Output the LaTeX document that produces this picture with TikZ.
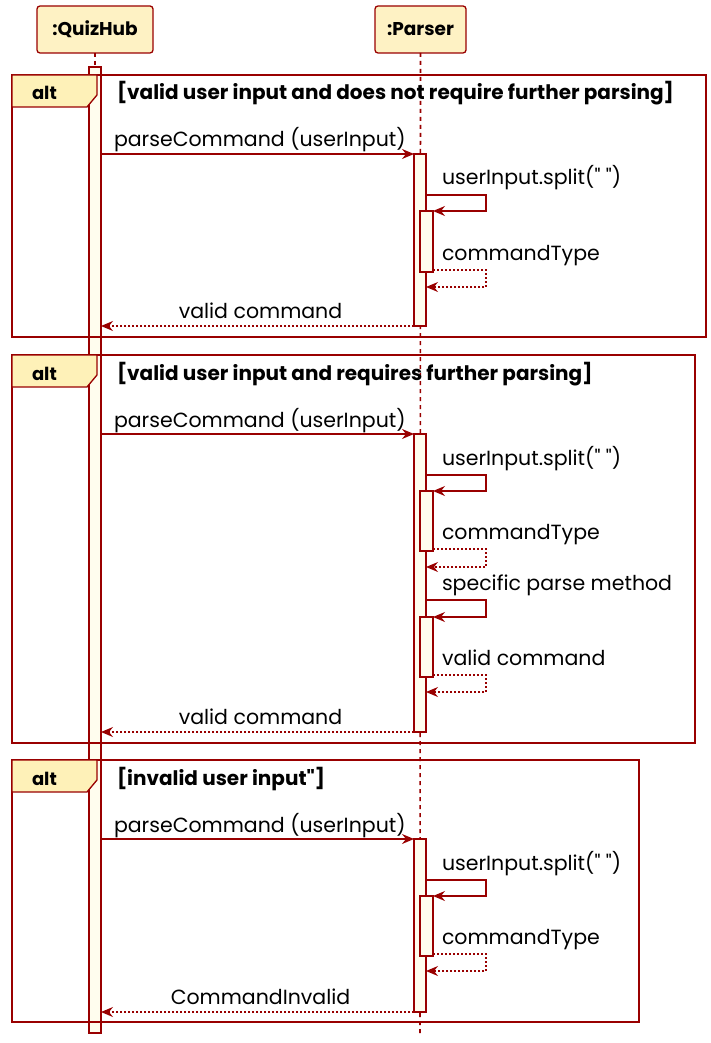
\documentclass[tikz,border=0pt]{standalone}
\usepackage{fontspec}
\setmainfont{Poppins}
\usetikzlibrary{arrows.meta,positioning}
\definecolor{umlred}{HTML}{990000}
\definecolor{umlfill}{HTML}{FEF2C4}
\definecolor{tabfill}{HTML}{FEF1B8}
\definecolor{actfill}{HTML}{FFFDEE}
\newcommand{\dq}{\textquotedbl}
\tikzstyle{every node}=[font=\fontsize{20.5}{24}\selectfont, inner sep=0, outer sep=0]
\tikzstyle{participant}=[draw=umlred, fill=umlfill, line width=1.3pt, rounded corners=3pt, minimum height=47, font=\fontsize{18.5}{22}\selectfont\bfseries]
\tikzstyle{lifeline}=[umlred, line width=1.6pt, dash pattern=on 4pt off 4pt]
\tikzstyle{actbar}=[draw=umlred, fill=actfill, line width=1.1pt]
\tikzstyle{msg}=[umlred, line width=1.3pt, -{Stealth[length=12pt,width=10pt,inset=4pt]}]
\tikzstyle{ret}=[msg, dash pattern=on 2pt off 2pt]
\tikzstyle{frame}=[draw=umlred, line width=1.8pt]
\tikzstyle{tab}=[draw=umlred, fill=tabfill, line width=1.3pt]
\tikzstyle{guard}=[anchor=base west, font=\fontsize{20}{24}\selectfont\bfseries]
\tikzstyle{altlabel}=[anchor=base west, font=\fontsize{18}{22}\selectfont\bfseries]

\begin{document}
\begin{tikzpicture}[x=1pt,y=-1pt]
		\useasboundingbox (0,0) rectangle (711,1043);
		\node[participant,minimum width=116] (hub) at (95,29.5) {:QuizHub};
		\node[participant,minimum width=91] (parser) at (420.5,29.5) {:Parser};
		\coordinate[] (hubend) at (95,1036);
		\coordinate[] (parend) at (420,1036);
		\draw[lifeline] (hub) -- (hubend);
		\draw[lifeline] (parser) -- (parend);
		\draw[actbar] (89,67) rectangle (101,1033);
		% first alt
		\begin{scope}[shift={(0,75)}]
		\draw[frame] (12,0) rectangle (706,262);
		\draw[tab] (12,0) -- (97,0) -- (97,20) -- (87,32) -- (12,32) -- cycle;
		\node[altlabel] (alta) at (32,25) {alt};
		\node[guard] (guarda) at (117,25) {[valid user input and does not require further parsing]};
		\end{scope}
		% second alt
		\begin{scope}[shift={(0,355)}]
		\draw[frame] (12,0) rectangle (695,388);
		\draw[tab] (12,0) -- (97,0) -- (97,20) -- (87,32) -- (12,32) -- cycle;
		\node[altlabel] (altb) at (32,25) {alt};
		\node[guard] (guardb) at (117,25) {[valid user input and requires further parsing]};
		\end{scope}
		% third alt
		\begin{scope}[shift={(0,760)}]
		\draw[frame] (12,0) rectangle (639,262);
		\draw[tab] (12,0) -- (97,0) -- (97,20) -- (87,32) -- (12,32) -- cycle;
		\node[altlabel] (altc) at (32,25) {alt};
		\node[guard] (guardc) at (117,25) {[invalid user input\dq]};
		\end{scope}
		% first alt messages
		\begin{scope}[shift={(0,75)}]
		\draw[actbar] (414,79) rectangle (426,251);
		\draw[actbar] (420,136) rectangle (433,197);
		\coordinate[] (a1s) at (101,79);
		\coordinate[] (a1e) at (414,79);
		\coordinate[] (a2s) at (426,120);
		\coordinate[] (a2e) at (433,136);
		\coordinate[] (a3s) at (433,195);
		\coordinate[] (a3e) at (426,212);
		\coordinate[] (a4s) at (414,251);
		\coordinate[] (a4e) at (101,251);
		\draw[msg] (a1s) -- node[pos=0,anchor=base west,xshift=13,yshift=7,black] {parseCommand (userInput)} (a1e);
		\draw[msg] (a2s) -- node[pos=0,anchor=base west,xshift=16,yshift=10,black] {userInput.split(\dq{} \dq)} ++(60,0) |- (a2e);
		\draw[ret] (a3s) -- node[pos=0,anchor=base west,xshift=9,yshift=10,black] {commandType} ++(53,0) |- (a3e);
		\draw[ret] (a4s) -- node[midway,anchor=base,yshift=8,xshift=3,black] {valid command} (a4e);
		\end{scope}
		% second alt messages
		\begin{scope}[shift={(0,355)}]
		\draw[actbar] (414,79) rectangle (426,377);
		\draw[actbar] (420,136) rectangle (433,196);
		\draw[actbar] (420,262) rectangle (433,322);
		\coordinate[] (b1s) at (101,79);
		\coordinate[] (b1e) at (414,79);
		\coordinate[] (b2s) at (426,120);
		\coordinate[] (b2e) at (433,136);
		\coordinate[] (b3s) at (433,194);
		\coordinate[] (b3e) at (426,212);
		\coordinate[] (b4s) at (426,245);
		\coordinate[] (b4e) at (433,262);
		\coordinate[] (b5s) at (433,320);
		\coordinate[] (b5e) at (426,337);
		\coordinate[] (b6s) at (414,377);
		\coordinate[] (b6e) at (101,377);
		\draw[msg] (b1s) -- node[pos=0,anchor=base west,xshift=13,yshift=7,black] {parseCommand (userInput)} (b1e);
		\draw[msg] (b2s) -- node[pos=0,anchor=base west,xshift=16,yshift=10,black] {userInput.split(\dq{} \dq)} ++(60,0) |- (b2e);
		\draw[ret] (b3s) -- node[pos=0,anchor=base west,xshift=9,yshift=10,black] {commandType} ++(53,0) |- (b3e);
		\draw[msg] (b4s) -- node[pos=0,anchor=base west,xshift=16,yshift=10,black] {specific parse method} ++(60,0) |- (b4e);
		\draw[ret] (b5s) -- node[pos=0,anchor=base west,xshift=9,yshift=10,black] {valid command} ++(53,0) |- (b5e);
		\draw[ret] (b6s) -- node[midway,anchor=base,yshift=8,xshift=3,black] {valid command} (b6e);
		\end{scope}
		% third alt messages
		\begin{scope}[shift={(0,760)}]
		\draw[actbar] (414,79) rectangle (426,252);
		\draw[actbar] (420,136) rectangle (433,196);
		\coordinate[] (c1s) at (101,79);
		\coordinate[] (c1e) at (414,79);
		\coordinate[] (c2s) at (426,120);
		\coordinate[] (c2e) at (433,136);
		\coordinate[] (c3s) at (433,194);
		\coordinate[] (c3e) at (426,211);
		\coordinate[] (c4s) at (414,252);
		\coordinate[] (c4e) at (101,252);
		\draw[msg] (c1s) -- node[pos=0,anchor=base west,xshift=13,yshift=7,black] {parseCommand (userInput)} (c1e);
		\draw[msg] (c2s) -- node[pos=0,anchor=base west,xshift=16,yshift=10,black] {userInput.split(\dq{} \dq)} ++(60,0) |- (c2e);
		\draw[ret] (c3s) -- node[pos=0,anchor=base west,xshift=9,yshift=10,black] {commandType} ++(53,0) |- (c3e);
		\draw[ret] (c4s) -- node[midway,anchor=base,yshift=8,xshift=3,black] {CommandInvalid} (c4e);
		\end{scope}
	\end{tikzpicture}
\end{document}
